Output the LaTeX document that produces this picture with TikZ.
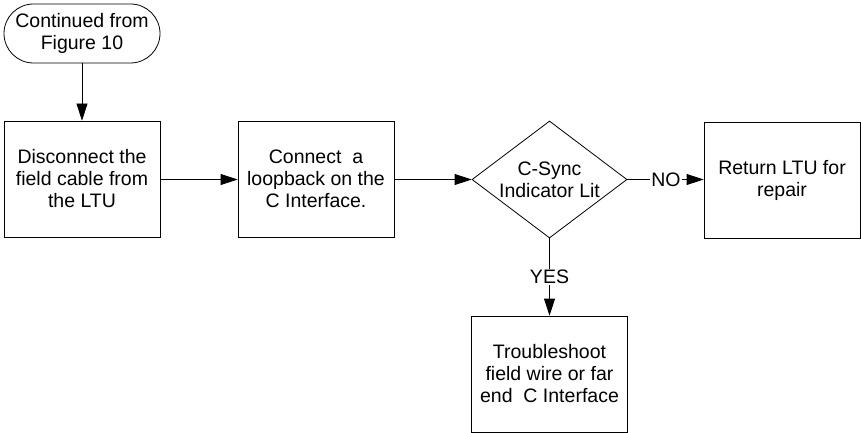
\documentclass[tikz,border=0pt]{standalone}
\usepackage{fontspec}
\setmainfont{Liberation Sans}
\usetikzlibrary{arrows.meta,shapes.geometric}
\begin{document}
\begin{tikzpicture}[x=1pt,y=-1pt,
  every node/.style={font=\fontsize{19.5}{22}\selectfont, align=center},
  proc/.style={draw, line width=0.8pt, minimum width=156pt, minimum height=116pt, inner sep=0pt},
  term/.style={draw, line width=0.8pt, minimum width=156pt, minimum height=59pt, rounded corners=29.5pt, inner sep=0pt},
  dec/.style={draw, line width=0.8pt, diamond, minimum width=155pt, minimum height=117pt, inner sep=0pt},
  flow/.style={line width=0.8pt, -{Triangle[length=17pt,width=11pt]}},
  plain/.style={line width=0.8pt},
  lbl/.style={inner sep=1pt}
]
\useasboundingbox (0,0) rectangle (861,433);
\node[term] (start) at (82,33.5) {Continued from\\Figure 10};
\node[proc] (b1) at (82,179) {Disconnect the\\field cable from\\the LTU};
\node[proc] (b2) at (316,179) {Connect\ \ a\\loopback on the\\C Interface.};
\node[dec] (d) at (549.5,179.5) {};
\node at (d.center) {C-Sync\\Indicator Lit};
\node[proc] (b3) at (782,180) {Return LTU for\\repair};
\node[proc] (b4) at (549.5,374) {Troubleshoot\\field wire or far\\end\ \ C Interface};
\node[lbl] (no) at (666,180) {NO};
\node[lbl] (yes) at (549.5,277) {YES};
\draw[flow] (start) -- (b1);
\draw[flow] (b1.east |- d.west) -- (b2.west |- d.west);
\draw[flow] (b2.east |- d.west) -- (d.west);
\draw[plain] (d.east) -- (no.west |- d.east);
\draw[flow] (no.east |- d.east) -- (b3.west |- d.east);
\draw[plain] (d.south) -- (yes.north);
\draw[flow] (yes.south) -- (b4.north);
\end{tikzpicture}
\end{document}
